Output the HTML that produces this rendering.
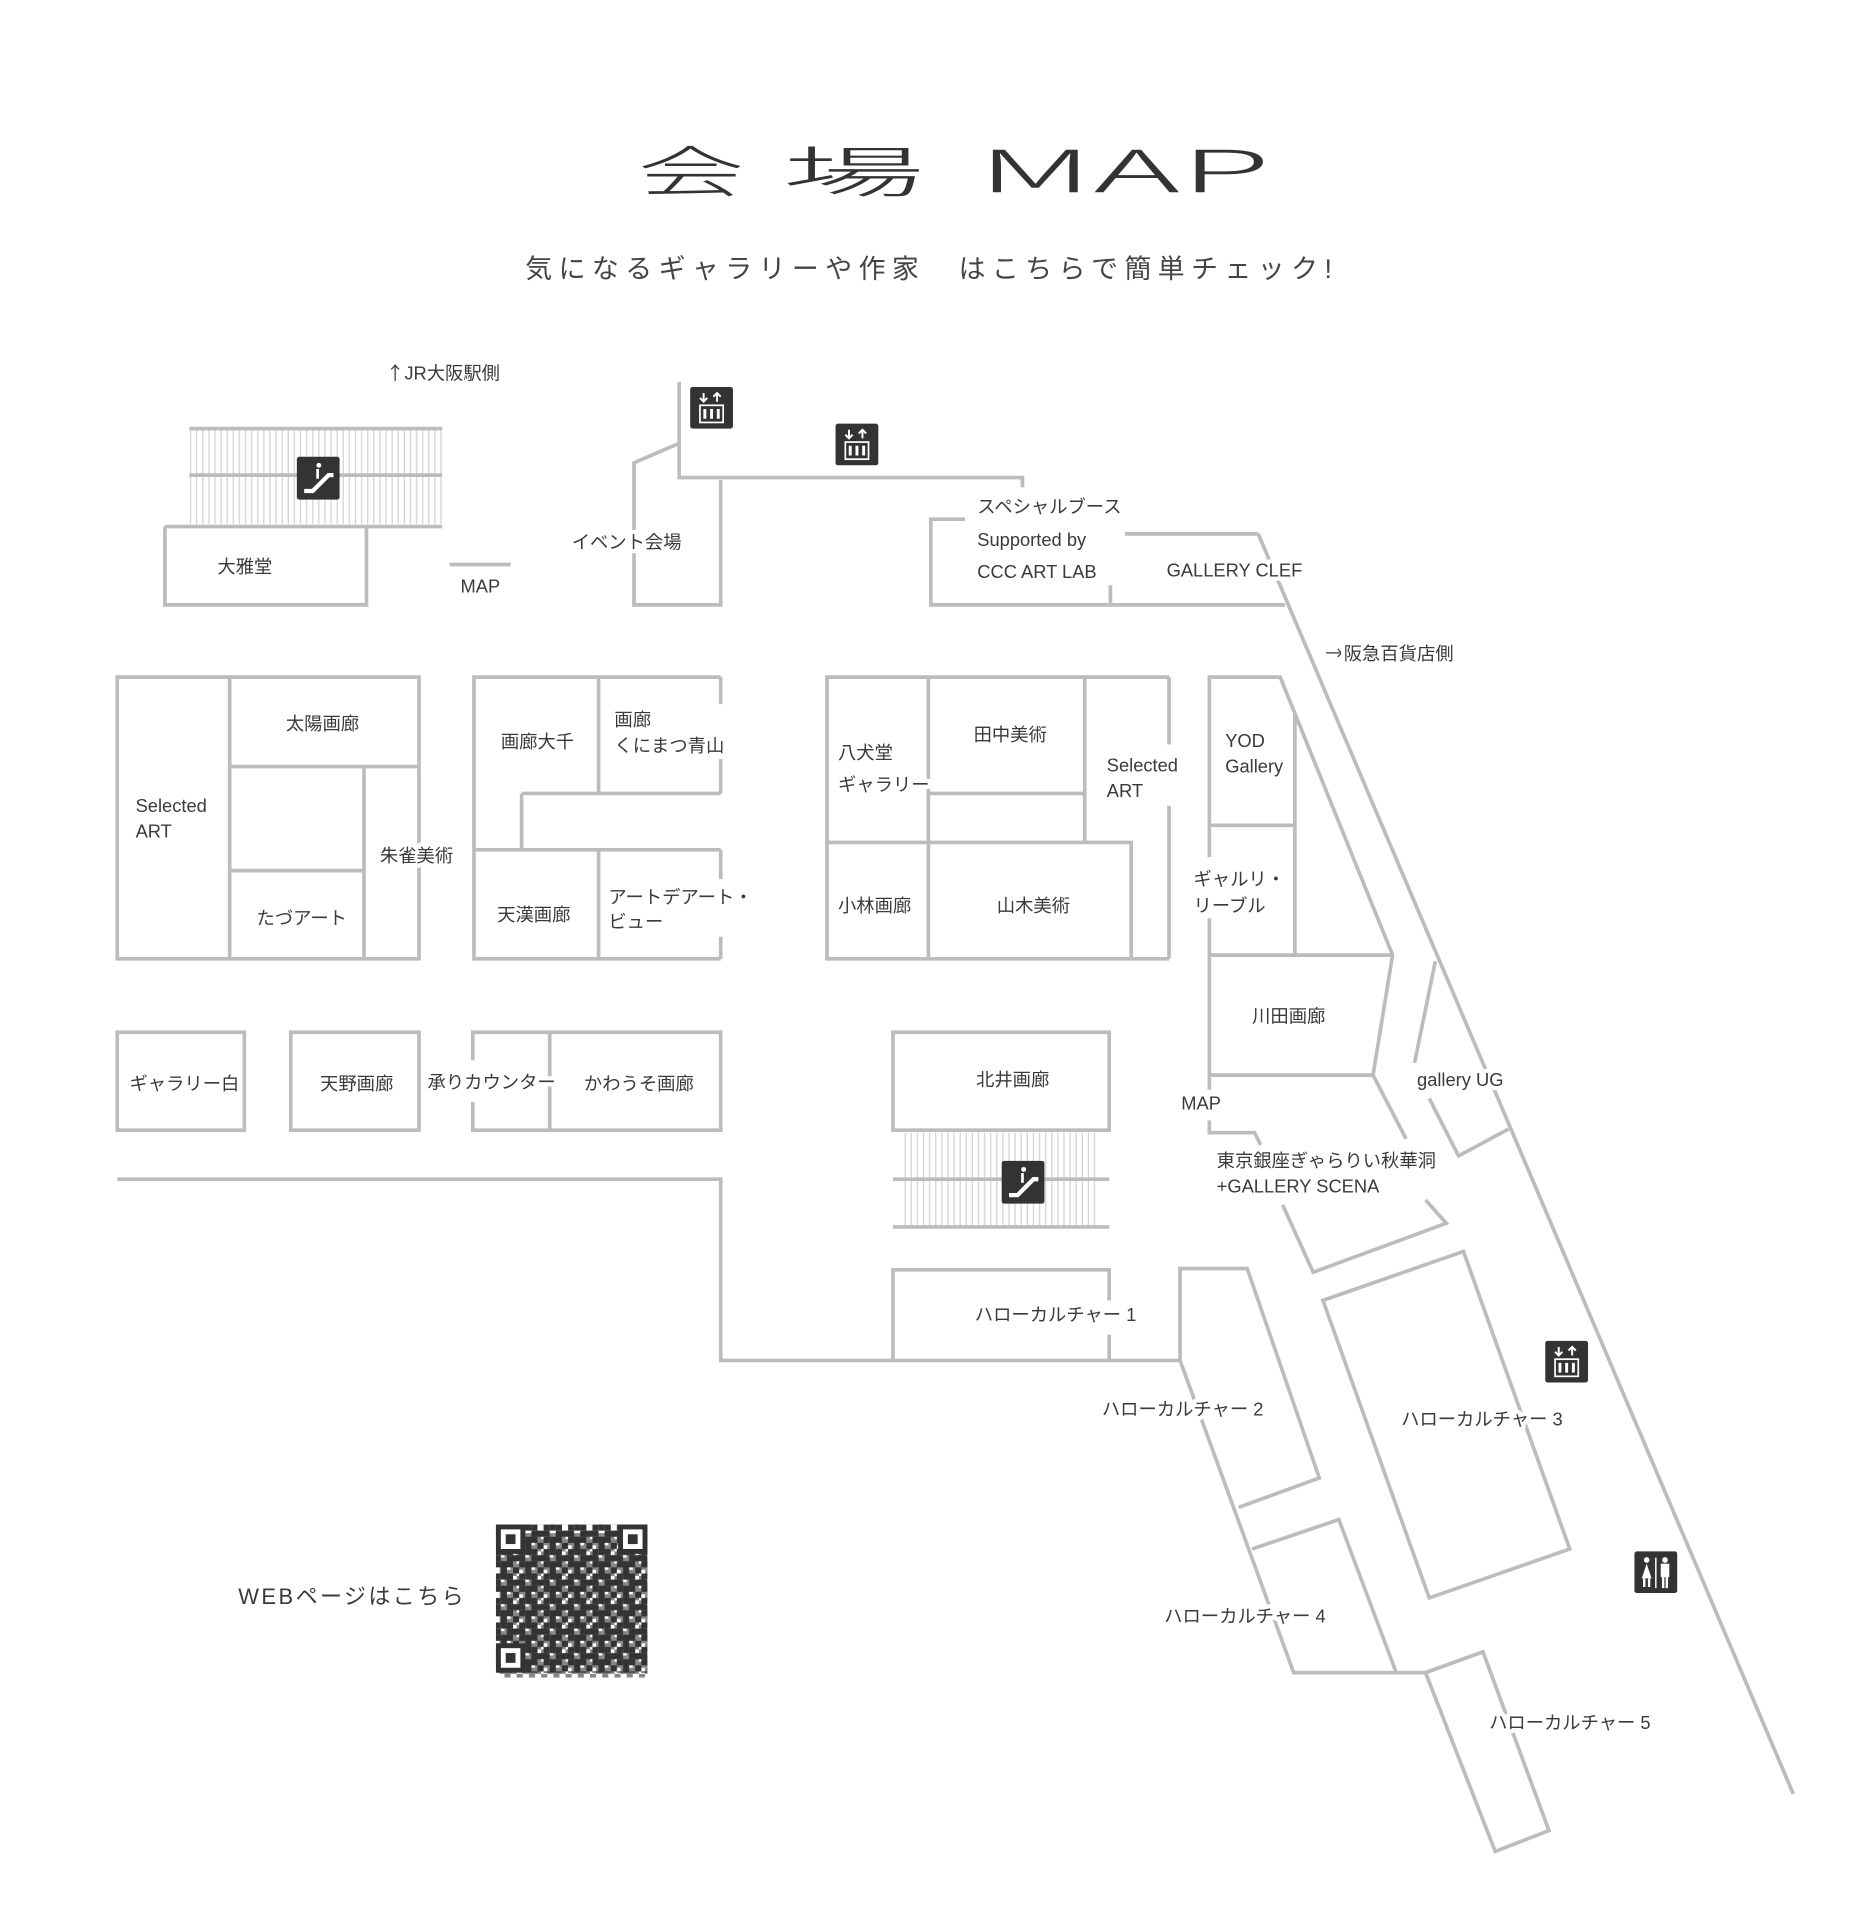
<!DOCTYPE html>
<html><head><meta charset="utf-8"><style>
html,body{margin:0;padding:0;background:#fff;}
svg{display:block;}
.l{fill:none;stroke:#bcbcbc;stroke-width:3;stroke-linejoin:miter;}
text{font-family:"Liberation Sans","Noto Sans CJK JP",sans-serif;fill:#3a3a3a;font-size:15px;}
.t{paint-order:stroke;stroke:#fff;stroke-width:7px;stroke-linejoin:round;}
.ar{font-family:"Noto Sans CJK JP",sans-serif;}
</style></head><body>
<svg width="1869" height="1920" viewBox="0 0 1530 1568" preserveAspectRatio="none" xmlns="http://www.w3.org/2000/svg">
<defs>
<pattern id="hat" width="5" height="10" patternUnits="userSpaceOnUse"><line x1="1" y1="0" x2="1" y2="10" stroke="#d2d2d2" stroke-width="1"/></pattern>
<pattern id="qr" width="20" height="20" patternUnits="userSpaceOnUse">
<rect x="0" y="0" width="5" height="5" fill="#333"/><rect x="10" y="0" width="5" height="10" fill="#333"/><rect x="5" y="5" width="5" height="5" fill="#333"/><rect x="15" y="5" width="5" height="5" fill="#333"/><rect x="0" y="10" width="10" height="5" fill="#333"/><rect x="15" y="10" width="5" height="5" fill="#333"/><rect x="5" y="15" width="5" height="5" fill="#333"/><rect x="10" y="15" width="10" height="5" fill="#333"/>
</pattern>
<g id="elev"><rect x="0" y="0" width="35" height="34" rx="2" fill="#333"/><path d="M11 5v7M8 9l3 3 3-3M22 12V5M19 8l3-3 3 3" stroke="#fff" stroke-width="1.6" fill="none"/><rect x="8" y="15" width="19" height="14" fill="none" stroke="#fff" stroke-width="1.4"/><path d="M12 18v8M17.5 18v8M23 18v8" stroke="#fff" stroke-width="2.4"/></g>
<g id="esc"><rect x="0" y="0" width="35" height="35" rx="2" fill="#333"/><circle cx="18" cy="7" r="2" fill="#fff"/><path d="M17 10v8" stroke="#fff" stroke-width="2.2"/><path d="M6 28h7l13-13h4" stroke="#fff" stroke-width="3.5" fill="none"/></g>
</defs>

<!-- title -->
<g transform="translate(522,157) scale(1.75,0.9)"><text x="0" y="0" style="font-size:50px;font-weight:300;fill:#333;font-family:'Noto Sans CJK JP',sans-serif">会</text></g>
<g transform="translate(640,157) scale(2.35,0.9)"><text x="0" y="0" style="font-size:50px;font-weight:300;fill:#333;font-family:'Noto Sans CJK JP',sans-serif">場</text></g>
<g transform="translate(800,157) scale(1,0.85)"><text x="0" y="0" textLength="240" lengthAdjust="spacingAndGlyphs" style="font-size:56px;font-weight:300;fill:#333;font-family:'Noto Sans CJK JP',sans-serif">MAP</text></g>
<text x="430" y="227" style="font-size:22px;letter-spacing:5.3px;fill:#444">気になるギャラリーや作家　はこちらで簡単チェック!</text>

<!-- top-left escalator -->
<rect x="155" y="350" width="207" height="78" fill="url(#hat)"/>
<path class="l" d="M155 350H362M155 388H362M135 430H362"/>
<use href="#esc" x="243" y="373"/>
<path class="l" d="M135 430V494H300V430"/>
<path class="l" d="M368 461H418"/>

<!-- event -->
<path class="l" d="M556 312V390H837V398M556 362L519 378V494H590V392"/>
<use href="#elev" x="565" y="316"/>
<use href="#elev" x="684" y="346"/>

<!-- special -->
<path class="l" d="M790 424H762V494H1052M909 478V494M921 436H1030"/>
<path class="l" d="M1030 436L1468 1465"/>

<!-- block A -->
<path class="l" d="M96 553H343V783H96ZM188 553V783M188 626H343M188 711H298M298 626V783"/>
<!-- block B -->
<path class="l" d="M590 553H388V783H590M490 553V648M427 648H590M427 648V694M388 694H590M490 694V783M590 553V575M590 620V648M590 694V718M590 765V783"/>
<!-- block C -->
<path class="l" d="M957 553H677V783H957M760 553V783M888 553V688M760 648H888M677 688H926V783M957 553V608M957 658V783"/>
<!-- block D -->
<path class="l" d="M990 700V553H1048L1140 780L1124 878H990V750M1060 583V780M990 674H1060M990 780H1140M990 878V890"/>
<!-- ginza -->
<path class="l" d="M990 915V925H1027L1032 935M1124 878L1151 930M1167 980L1184 999L1075 1039L1050 984"/>
<!-- gallery UG -->
<path class="l" d="M1175 785L1158 868M1170 897L1194 944L1235 922"/>

<!-- lower row -->
<path class="l" d="M96 843H200V923H96ZM238 843H343V923H238ZM387 866V843H590V923H387V900M450 843V923"/>
<!-- kitai + escalator -->
<path class="l" d="M731 843H908V923H731Z"/>
<rect x="740" y="925" width="158" height="77" fill="url(#hat)"/>
<path class="l" d="M731 963H908M731 1002H908"/>
<use href="#esc" x="820" y="948"/>

<!-- big corridor -->
<path class="l" d="M96 963H590V1111H966V1036H1021L1080 1207L1014 1231M731 1111V1037H908V1062M908 1090V1111M966 1111L1059 1366H1167M1025 1265L1096 1241L1143 1366M1167 1366L1214 1349L1268 1495L1224 1512Z"/>
<!-- HC3 -->
<path class="l" d="M1083 1062L1198 1022L1285 1265L1170 1305Z"/>

<use href="#elev" x="1265" y="1095"/>
<g transform="translate(1338,1267)"><rect width="35" height="34" rx="2" fill="#333"/><circle cx="10" cy="7" r="2.3" fill="#fff"/><path d="M10 10l-4 12h8z" fill="#fff"/><path d="M8 22v7M12 22v7" stroke="#fff" stroke-width="2"/><path d="M17.5 5v25" stroke="#fff" stroke-width="1.2"/><circle cx="25" cy="7" r="2.3" fill="#fff"/><rect x="21.5" y="10" width="7" height="11" fill="#fff"/><path d="M23.5 20v10M26.5 20v10" stroke="#fff" stroke-width="2"/></g>

<!-- QR -->
<rect x="406" y="1245" width="124" height="121" fill="url(#qr)"/>
<rect x="406" y="1245" width="121" height="118" fill="url(#qr)" transform="translate(3 7)" opacity="0.6"/>
<g fill="none" stroke="#333" stroke-width="4"><rect x="408" y="1247" width="20" height="20" fill="#fff"/><rect x="508" y="1247" width="20" height="20" fill="#fff"/><rect x="408" y="1344" width="20" height="20" fill="#fff"/></g>
<g fill="#333"><rect x="414" y="1253" width="8" height="8"/><rect x="514" y="1253" width="8" height="8"/><rect x="414" y="1350" width="8" height="8"/></g>

<!-- labels -->
<g class="t">
<text x="316" y="310"><tspan class="ar">↑</tspan>JR大阪駅側</text>
<text x="178" y="468">大雅堂</text>
<text x="377" y="484">MAP</text>
<text x="468" y="448">イベント会場</text>
<text x="800" y="419">スペシャルブース</text>
<text x="800" y="446">Supported by</text>
<text x="800" y="472">CCC ART LAB</text>
<text x="955" y="471">GALLERY CLEF</text>
<text x="1085" y="539"><tspan class="ar">→</tspan>阪急百貨店側</text>
<text x="234" y="596">太陽画廊</text>
<text x="111" y="663">Selected</text>
<text x="111" y="684">ART</text>
<text x="311" y="704">朱雀美術</text>
<text x="210" y="755">たづアート</text>
<text x="410" y="611">画廊大千</text>
<text x="503" y="593">画廊</text>
<text x="503" y="614">くにまつ青山</text>
<text x="407" y="752">天漢画廊</text>
<text x="498" y="738">アートデアート・</text>
<text x="498" y="758">ビュー</text>
<text x="686" y="620">八犬堂</text>
<text x="686" y="646">ギャラリー</text>
<text x="797" y="605">田中美術</text>
<text x="906" y="630">Selected</text>
<text x="906" y="651">ART</text>
<text x="686" y="745">小林画廊</text>
<text x="816" y="745">山木美術</text>
<text x="1003" y="610">YOD</text>
<text x="1003" y="631">Gallery</text>
<text x="977" y="723">ギャルリ・</text>
<text x="977" y="745">リーブル</text>
<text x="1025" y="835">川田画廊</text>
<text x="106" y="890">ギャラリー白</text>
<text x="262" y="890">天野画廊</text>
<text x="350" y="889">承りカウンター</text>
<text x="478" y="890">かわうそ画廊</text>
<text x="799" y="887">北井画廊</text>
<text x="967" y="906">MAP</text>
<text x="996" y="953">東京銀座ぎゃらりい秋華洞</text>
<text x="996" y="974">+GALLERY SCENA</text>
<text x="1160" y="887">gallery UG</text>
<text x="798" y="1079">ハローカルチャー 1</text>
<text x="902" y="1156">ハローカルチャー 2</text>
<text x="1147" y="1164">ハローカルチャー 3</text>
<text x="953" y="1325">ハローカルチャー 4</text>
<text x="1219" y="1412">ハローカルチャー 5</text>
</g>
<text x="195" y="1310" style="font-size:18px;letter-spacing:2px">WEBページはこちら</text>
</svg>
</body></html>
